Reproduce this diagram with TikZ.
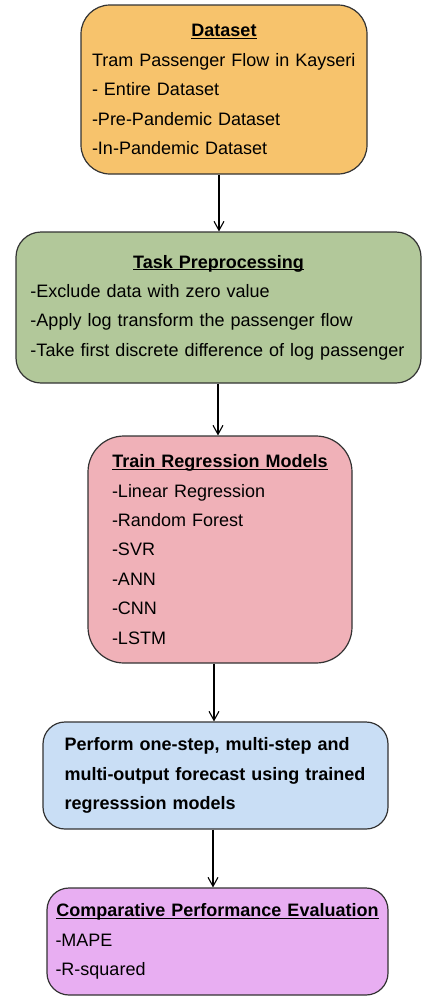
\documentclass[tikz,border=0pt]{standalone}
\usepackage{fontspec}
\setmainfont{Liberation Sans}
\usetikzlibrary{arrows.meta}

\definecolor{dataorange}{HTML}{F7C36C}
\definecolor{prepgreen}{HTML}{B2C89A}
\definecolor{trainpink}{HTML}{F0B1B8}
\definecolor{fcastblue}{HTML}{C9DEF5}
\definecolor{evalpurple}{HTML}{E8AEF2}
\definecolor{edgegray}{HTML}{333333}

\hyphenpenalty=10000
\newcommand{\boxhead}[1]{\noindent\makebox[\hsize]{\textbf{\underline{\smash{#1}}\vphantom{#1}}}}

\begin{document}
\begin{tikzpicture}[x=1pt, y=-1pt, >={Straight Barb[length=9pt,width=10pt]},
        every node/.style={draw=edgegray, line width=1.2pt, align=left, inner sep=0pt,
            font=\fontsize{18}{29.4}\selectfont}]
        \useasboundingbox (0,0) rectangle (422,997);
        \node[fill=dataorange, rounded corners=29pt, minimum width=286pt, minimum height=169pt, text width=264pt] (dataset) at (224,89.5)
            {\boxhead{Dataset}\\ Tram Passenger Flow in Kayseri\\ - Entire Dataset\\ -Pre-Pandemic Dataset\\ -In-Pandemic Dataset};
        \node[fill=prepgreen, rounded corners=25pt, minimum width=405pt, minimum height=151pt, text width=376pt] (prep) at (218.5,307.5)
            {\boxhead{Task Preprocessing}\\ -Exclude data with zero value\\ -Apply log transform the passenger flow\\ -Take first discrete difference of log passenger};
        \node[fill=trainpink, rounded corners=36pt, minimum width=264pt, minimum height=227pt, text width=216pt] (train) at (220,549.5)
            {\boxhead{Train Regression Models}\\ -Linear Regression\\ -Random Forest\\ -SVR\\ -ANN\\ -CNN\\ -LSTM};
        \node[fill=fcastblue, rounded corners=22pt, minimum width=345pt, minimum height=107pt, text width=302pt] (fcast) at (215.5,775.5)
            {\bfseries Perform one-step, multi-step and\\ multi-output forecast using trained\\ regresssion models};
        \node[fill=evalpurple, rounded corners=22pt, minimum width=341pt, minimum height=107pt, text width=324pt] (eval) at (217.5,941.5)
            {\boxhead{Comparative Performance Evaluation}\\ -MAPE\\ -R-squared};
        \draw[->, line width=1.1pt] ([xshift=-5pt]dataset.south) -- ([xshift=0.5pt]prep.north);
        \draw[->, line width=1.1pt] ([xshift=-0.5pt]prep.south) -- ([xshift=-2pt]train.north);
        \draw[->, line width=1.1pt] ([xshift=-6pt]train.south) -- ([xshift=-1.5pt]fcast.north);
        \draw[->, line width=1.1pt] ([xshift=-2.5pt]fcast.south) -- ([xshift=-4.5pt]eval.north);
    \end{tikzpicture}
\end{document}
